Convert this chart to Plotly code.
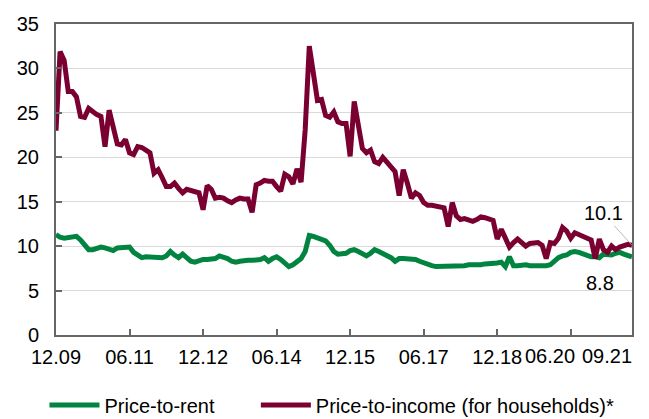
import plotly.graph_objects as go

# Monthly observations, Dec 2009 .. Sep 2021 (142 months)
month_index = list(range(142))

price_to_rent = [
    11.3, 11.0, 10.9, 11.0, 11.1, 11.1, 10.7, 10.1, 9.6, 9.6,
    9.8, 9.9, 9.8, 9.6, 9.5, 9.8, 9.8, 9.8, 9.9, 9.3,
    9.0, 8.7, 8.8, 8.8, 8.8, 8.7, 8.7, 8.9, 9.4, 9.0,
    8.7, 9.1, 8.6, 8.3, 8.2, 8.4, 8.5, 8.5, 8.5, 8.6,
    8.9, 8.8, 8.6, 8.3, 8.2, 8.3, 8.4, 8.4, 8.4, 8.4,
    8.5, 8.7, 8.3, 8.6, 8.8, 8.5, 8.1, 7.7, 7.9, 8.2,
    8.6, 9.4, 11.2, 11.1, 10.9, 10.7, 10.6, 10.1, 9.4, 9.1,
    9.1, 9.2, 9.5, 9.6, 9.4, 9.1, 8.9, 9.2, 9.6, 9.4,
    9.2, 9.0, 8.7, 8.3, 8.6, 8.6, 8.6, 8.6, 8.5, 8.3,
    8.1, 7.9, 7.8, 7.7, 7.7, 7.8, 7.8, 7.7, 7.8, 7.8,
    7.8, 7.9, 7.9, 7.8, 7.9, 8.0, 8.0, 8.1, 8.1, 8.2,
    7.7, 8.8, 7.8, 7.8, 7.9, 7.9, 7.8, 7.8, 7.7, 7.7,
    7.8, 7.9, 8.3, 8.7, 8.9, 9.0, 9.3, 9.4, 9.3, 9.1,
    9.0, 8.8, 8.8, 8.7, 9.1, 9.0, 9.0, 9.2, 9.3, 9.1,
    9.0, 8.8,
]

price_to_income = [
    23.0, 31.9, 30.9, 27.4, 27.4, 26.8, 24.6, 24.5, 25.5, 25.1,
    24.8, 24.6, 21.2, 25.3, 23.5, 21.5, 21.4, 22.0, 20.5, 20.3,
    21.2, 21.1, 20.8, 20.5, 18.2, 18.6, 17.7, 16.7, 16.7, 17.1,
    16.5, 16.0, 16.4, 16.3, 16.1, 16.0, 14.1, 16.8, 16.4, 15.4,
    15.5, 15.4, 15.1, 14.9, 15.2, 15.4, 15.3, 15.3, 13.8, 16.9,
    17.1, 17.4, 17.3, 17.3, 16.7, 16.2, 18.1, 17.8, 17.0, 18.7,
    17.2, 23.1, 32.5, 29.4, 26.4, 26.5, 24.7, 24.5, 25.1, 24.0,
    23.8, 23.8, 20.1, 26.3, 23.5, 21.0, 20.5, 20.8, 19.5, 19.3,
    20.0, 19.4, 18.9, 18.4, 15.7, 18.6, 17.1, 15.4, 16.0, 15.7,
    14.9, 14.6, 14.6, 14.5, 14.4, 14.3, 12.2, 14.9, 13.4, 13.0,
    13.1, 13.0, 12.8, 13.0, 13.3, 13.2, 13.1, 12.9, 10.8, 11.9,
    10.9, 9.9, 10.4, 10.8, 10.4, 10.0, 10.3, 10.4, 10.4, 10.1,
    8.6, 10.4, 10.3, 10.9, 12.1, 11.7, 10.9, 11.5, 11.3, 11.1,
    10.9, 10.7, 8.6, 10.8, 9.6, 9.3, 10.0, 9.6, 9.9, 10.1,
    10.2, 10.1,
]

tick_positions = [0, 18, 36, 54, 72, 90, 108, 126, 141]
tick_labels = ["12.09", "06.11", "12.12", "06.14", "12.15", "06.17", "12.18", "06.20", "09.21"]

y_ticks = [0, 5, 10, 15, 20, 25, 30, 35]

GREEN = "#00843F"
MAROON = "#7A0032"
AXIS = "#666666"
FONT = "Liberation Sans, Arial, sans-serif"
TS = 20

fig = go.Figure()
fig.add_trace(go.Scatter(x=month_index, y=price_to_rent, mode="lines",
                         name="Price-to-rent", legend="legend",
                         line=dict(color=GREEN, width=5)))
fig.add_trace(go.Scatter(x=month_index, y=price_to_income, mode="lines",
                         name="Price-to-income (for households)*", legend="legend2",
                         line=dict(color=MAROON, width=5)))

# last two tick labels are drawn shifted left, as in the reference
shown_text = tick_labels[:-2] + ["", ""]

fig.update_xaxes(range=[0, 141], tickvals=tick_positions, ticktext=shown_text,
                 showline=True, linecolor=AXIS, linewidth=2, mirror=True,
                 ticks="inside", ticklen=6, tickwidth=1.5, tickcolor=AXIS,
                 showgrid=False, zeroline=False, ticklabelstandoff=3,
                 tickfont=dict(family=FONT, size=TS, color="#000"))
fig.update_yaxes(range=[0, 35], tickvals=y_ticks,
                 showline=True, linecolor=AXIS, linewidth=2, mirror=True,
                 ticks="inside", ticklen=6, tickwidth=1.5, tickcolor=AXIS,
                 showgrid=True, gridcolor="#D9D9D9", gridwidth=1, zeroline=False,
                 ticklabelstandoff=11,
                 tickfont=dict(family=FONT, size=TS, color="#000"))

annotations = [
    dict(x=121.0, y=0, xref="x", yref="paper", text=tick_labels[-2], showarrow=False,
         yanchor="top", yshift=-8, font=dict(family=FONT, size=TS, color="#000")),
    dict(x=134.9, y=0, xref="x", yref="paper", text=tick_labels[-1], showarrow=False,
         yanchor="top", yshift=-8, font=dict(family=FONT, size=TS, color="#000")),
    dict(x=141, y=price_to_income[-1], ax=133.9, ay=13.7, xref="x", yref="y",
         axref="x", ayref="y", text=f"{price_to_income[-1]:.1f}", showarrow=True,
         arrowhead=0, arrowwidth=0.8, arrowcolor="#A6A6A6",
         font=dict(family=FONT, size=TS, color="#000")),
    dict(x=133.2, y=5.9, xref="x", yref="y", text=f"{price_to_rent[-1]:.1f}",
         showarrow=False, font=dict(family=FONT, size=TS, color="#000")),
]

legend_style = dict(orientation="h", y=-0.225, xanchor="left", yanchor="middle",
                    font=dict(family=FONT, size=20, color="#000"),
                    itemwidth=50, bgcolor="rgba(0,0,0,0)")

# The page body adds an 8px margin, so the figure is sized to fill the rest
fig.update_layout(
    width=641, height=411,
    margin=dict(l=48, r=17, t=16, b=84, autoexpand=False),
    paper_bgcolor="white", plot_bgcolor="white",
    font=dict(family=FONT, size=TS, color="#000"),
    showlegend=True,
    legend=dict(x=-0.02, **legend_style),
    legend2=dict(x=0.347, **legend_style),
    annotations=annotations,
)

fig.write_html("out.html")
